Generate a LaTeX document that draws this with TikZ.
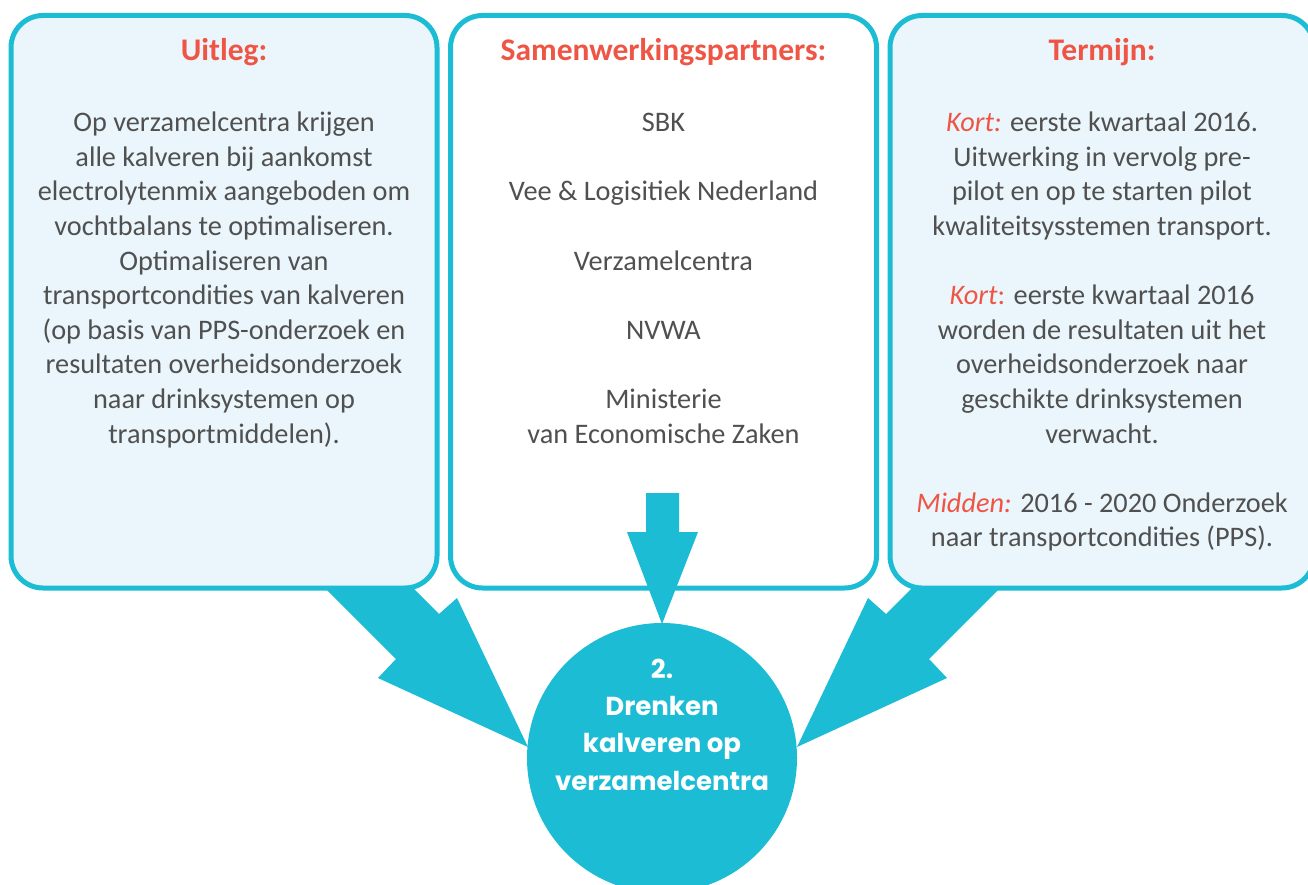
\documentclass[tikz,border=0pt]{standalone}
\usepackage{fontspec}
\setmainfont{Carlito}
\newfontfamily\circfont{Poppins}
\definecolor{teal}{HTML}{1BBCD4}
\definecolor{lightfill}{HTML}{EAF6FB}
\definecolor{headred}{HTML}{EF5545}
\definecolor{textgray}{HTML}{505050}
\tikzset{
  box/.style={draw=teal, line width=5pt, rounded corners=32pt, minimum width=426pt, minimum height=572.5pt, inner sep=0pt},
  head/.style={anchor=base, inner sep=0pt, text=headred, font=\bfseries\fontsize{31.5}{38}\selectfont},
  body/.style={anchor=north, inner sep=0pt, align=center, text=textgray, font=\fontsize{28.3}{34.6}\selectfont},
  bigarrow/.style={fill=teal, draw=none},
  hub/.style={circle, fill=teal, draw=none, minimum size=270pt, inner sep=0pt},
  hubtext/.style={anchor=north, inner sep=0pt, align=center, text=white, font=\circfont\bfseries\fontsize{26}{37.3}\selectfont}
}
\newcommand{\rk}[1]{\textcolor{headred}{#1}}
\begin{document}
\begin{tikzpicture}[x=1pt,y=-1pt]
\useasboundingbox (0,0) rectangle (1308,885);
\clip (0,0) rectangle (1308,885);
% side arrows (behind boxes)
\fill[bigarrow] (322,585) -- (410,585) -- (439,614) -- (457,598) -- (528,747) -- (378,678) -- (396,659) -- cycle;
\fill[bigarrow] (1003,585) -- (915,585) -- (886,614) -- (868,598) -- (797,747) -- (947,678) -- (929,659) -- cycle;
% boxes
\node[box, fill=lightfill] (uitleg) at (224,301.75) {};
\node[box, fill=white] (partners) at (663.5,301.75) {};
\node[box, fill=lightfill, minimum width=424pt] (termijn) at (1102,301.75) {};
% middle arrow
\fill[bigarrow] (646,493) -- (679,493) -- (679,532) -- (698,532) -- (662,624) -- (627,532) -- (646,532) -- cycle;
% hub
\node[hub] (drenken) at (662,758) {};
% headings
\node[head] (h1) at (224,61) {Uitleg:};
\node[head] (h2) at (663.5,61) {Samenwerkingspartners:};
\node[head] (h3) at (1102,61) {Termijn:};
% bodies
\node[body] (t1) at (224,107.3) {\strut Op verzamelcentra krijgen\\
alle kalveren bij aankomst\\
electrolytenmix aangeboden om\\
vochtbalans te optimaliseren.\\
Optimaliseren van\\
transportcondities van kalveren\\
(op basis van PPS-onderzoek en\\
resultaten overheidsonderzoek\\
naar drinksystemen op\\
transportmiddelen).};
\node[body] (t2) at (663.5,107.3) {\strut SBK\\[34.6pt]
Vee \& Logisitiek Nederland\\[34.6pt]
Verzamelcentra\\[34.6pt]
NVWA\\[34.6pt]
Ministerie\\
van Economische Zaken};
\node[body] (t3) at (1102,107.3) {\strut \rk{\itshape Kort:} eerste kwartaal 2016.\\
Uitwerking in vervolg pre-\\
pilot en op te starten pilot\\
kwaliteitsysstemen transport.\\[34.6pt]
\rk{\textit{Kort}:} eerste kwartaal 2016\\
worden de resultaten uit het\\
overheidsonderzoek naar\\
geschikte drinksystemen\\
verwacht.\\[34.6pt]
\rk{\itshape Midden:} 2016 - 2020 Onderzoek\\
naar transportcondities (PPS).};
\node[hubtext] (c1) at (662,651.9) {\strut 2.\\ Drenken\\ kalveren op\\ verzamelcentra};
\end{tikzpicture}
\end{document}
